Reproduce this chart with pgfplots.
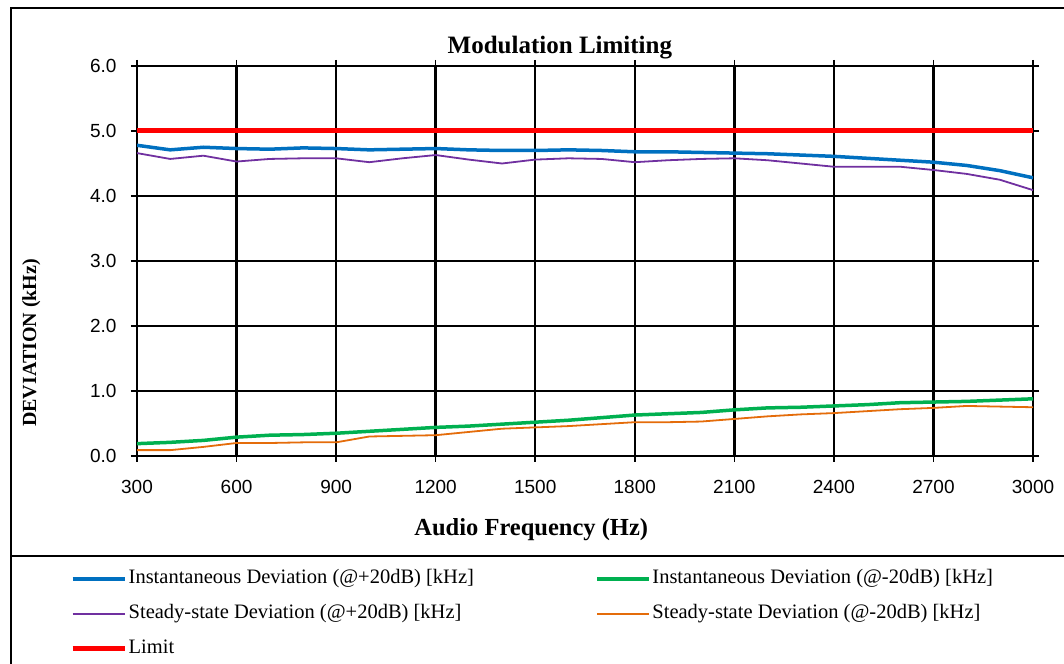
\documentclass[border=0pt]{standalone}
\usepackage{fontspec}
\setmainfont{Liberation Serif}
\newfontfamily\ticksans{Liberation Sans}
\usepackage{pgfplots}
\pgfplotsset{compat=1.18}

\definecolor{instpos}{HTML}{0070C0}
\definecolor{instneg}{HTML}{00B050}
\definecolor{steadypos}{HTML}{7030A0}
\definecolor{steadyneg}{HTML}{E46C0A}
\definecolor{limitred}{HTML}{FF0000}

% Deviation readings versus audio frequency, one table per series
\pgfplotstableread{
f dev
300 4.78
400 4.71
500 4.75
600 4.73
700 4.72
800 4.74
900 4.73
1000 4.71
1100 4.72
1200 4.73
1300 4.71
1400 4.70
1500 4.70
1600 4.71
1700 4.70
1800 4.68
1900 4.68
2000 4.67
2100 4.66
2200 4.65
2300 4.63
2400 4.61
2500 4.58
2600 4.55
2700 4.52
2800 4.47
2900 4.39
3000 4.28
}\instposdata

\pgfplotstableread{
f dev
300 0.19
400 0.21
500 0.24
600 0.29
700 0.32
800 0.33
900 0.35
1000 0.38
1100 0.41
1200 0.44
1300 0.46
1400 0.49
1500 0.52
1600 0.55
1700 0.59
1800 0.63
1900 0.65
2000 0.67
2100 0.71
2200 0.74
2300 0.75
2400 0.77
2500 0.79
2600 0.82
2700 0.83
2800 0.84
2900 0.86
3000 0.88
}\instnegdata

\pgfplotstableread{
f dev
300 4.66
400 4.57
500 4.62
600 4.53
700 4.57
800 4.58
900 4.58
1000 4.52
1100 4.58
1200 4.63
1300 4.56
1400 4.50
1500 4.56
1600 4.58
1700 4.57
1800 4.52
1900 4.55
2000 4.57
2100 4.58
2200 4.55
2300 4.50
2400 4.45
2500 4.45
2600 4.45
2700 4.40
2800 4.34
2900 4.25
3000 4.09
}\steadyposdata

\pgfplotstableread{
f dev
300 0.09
400 0.09
500 0.14
600 0.20
700 0.20
800 0.21
900 0.21
1000 0.30
1100 0.31
1200 0.32
1300 0.37
1400 0.42
1500 0.44
1600 0.46
1700 0.49
1800 0.52
1900 0.52
2000 0.53
2100 0.57
2200 0.61
2300 0.64
2400 0.66
2500 0.69
2600 0.72
2700 0.74
2800 0.77
2900 0.76
3000 0.75
}\steadynegdata

\begin{document}
\begin{tikzpicture}
\begin{axis}[
  at={(137pt,207pt)}, anchor=south west,
  scale only axis, width=896pt, height=390pt,
  xmin=300, xmax=3000, ymin=0, ymax=6,
  xtick={300,600,...,3000}, ytick={0,1,...,6},
  grid=major, major grid style={black, line width=2.5pt},
  axis line style={black, line width=2pt},
  tick style={black, line width=1.5pt}, tick align=outside,
  major tick length=6pt,
  /pgf/number format/assume math mode=true,
  xticklabel style={/pgf/number format/fixed, /pgf/number format/1000 sep={}, yshift=-15pt},
  yticklabel style={/pgf/number format/fixed, /pgf/number format/fixed zerofill,
    /pgf/number format/precision=1, xshift=-11pt},
  ticklabel style={font=\ticksans\fontsize{19}{21}\selectfont},
  title={\bfseries Modulation Limiting},
  title style={font=\fontsize{25}{28}\selectfont, at={(0.472,1)}, yshift=-3pt},
  xlabel={\bfseries Audio Frequency (Hz)},
  xlabel style={font=\fontsize{24.5}{27}\selectfont, at={(0.44,0)}, anchor=center, yshift=-74pt},
  ylabel={\bfseries DEVIATION (kHz)},
  ylabel style={font=\fontsize{20}{23}\selectfont, at={(-0.118,0.29)}, anchor=center},
  legend columns=2,
  legend cell align=left,
  legend image code/.code={\draw[#1] (0pt,0pt) -- (52pt,0pt);},
  legend style={draw=none, fill=none, at={(-0.0748,-0.2877)}, anchor=north west,
    inner sep=0pt, row sep=14pt,
    font=\fontsize{20.5}{24}\selectfont,
    nodes={inner sep=1.5pt, text height=14pt, text depth=4pt},
    /tikz/column 2/.style={column sep=120pt}},
]
\addplot[instpos, line width=3.5pt] table[x=f, y=dev] {\instposdata};
\addlegendentry{Instantaneous Deviation (@+20dB) [kHz]}
\addplot[instneg, line width=3.5pt] table[x=f, y=dev] {\instnegdata};
\addlegendentry{Instantaneous Deviation (@-20dB) [kHz]}
\addplot[steadypos, line width=1.8pt] table[x=f, y=dev] {\steadyposdata};
\addlegendentry{Steady-state Deviation (@+20dB) [kHz]}
\addplot[steadyneg, line width=1.8pt] table[x=f, y=dev] {\steadynegdata};
\addlegendentry{Steady-state Deviation (@-20dB) [kHz]}
\addplot[limitred, line width=5pt] coordinates {(300,5) (3000,5)};
\addlegendentry{Limit}
\end{axis}
% chart frame and legend divider
\draw[black, line width=2pt] (11pt,-10pt) -- (11pt,655pt) -- (1080pt,655pt);
\draw[black, line width=2.5pt] (11pt,107pt) -- (1080pt,107pt);
\pgfresetboundingbox
\path[use as bounding box] (0,0) rectangle (1064pt,663pt);
\end{tikzpicture}
\end{document}
